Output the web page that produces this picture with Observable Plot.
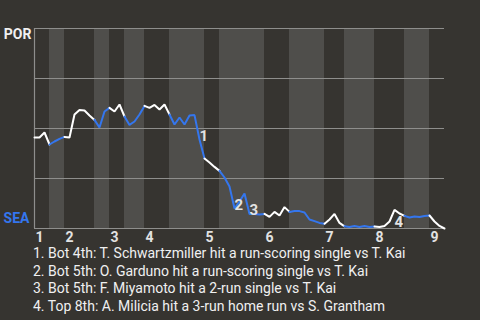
<!DOCTYPE html>
<html><head><meta charset="utf-8">
<script src="https://cdn.jsdelivr.net/npm/d3@7"></script>
<script src="https://cdn.jsdelivr.net/npm/@observablehq/plot@0.6"></script>
<style>
html,body{margin:0;padding:0;background:#363430;width:480px;height:320px;overflow:hidden;font-family:Roboto,sans-serif;}
#chart svg{display:block;}
#notes{padding-left:33px;color:#f0f0f0;font-size:14px;line-height:17.7px;white-space:nowrap;}
</style></head><body>
<div id="chart"></div>
<div id="notes"></div>
<script>
const teams = ["SEA", "POR"];
const innings = ["1","2","3","4","5","6","7","8","9"];
// plays per half-inning: T1, B1, T2, B2, ... T9
const halfInningPlays = [3,3,6,3,3,4,5,7,3,9,5,7,4,6,6,5,3];
// POR win probability after each play (index 0 = start of game)
const porWinProb = [
  0.455,0.455,0.48,0.42,0.435,0.448,0.458,0.455,0.57,0.593,
  0.59,0.565,0.543,0.505,0.585,0.603,0.585,0.62,0.56,0.518,
  0.535,0.57,0.613,0.603,0.618,0.595,0.62,0.57,0.52,0.555,
  0.52,0.565,0.567,0.445,0.35,0.33,0.308,0.288,0.255,0.21,
  0.10,0.135,0.175,0.073,0.073,0.07,0.073,0.058,0.083,0.065,
  0.107,0.083,0.087,0.087,0.08,0.045,0.037,0.028,0.024,0.045,
  0.073,0.028,0.011,0.008,0.012,0.008,0.012,0.008,0.01,0.008,
  0.013,0.035,0.093,0.075,0.063,0.055,0.06,0.058,0.063,0.065,
  0.035,0.013,0.0
];
const eventLabels = ["1","2","3","4"];
const eventPlays = [33,40,43,72];
const eventNotes = [
  "1. Bot 4th: T. Schwartzmiller hit a run-scoring single vs T. Kai",
  "2. Bot 5th: O. Garduno hit a run-scoring single vs T. Kai",
  "3. Bot 5th: F. Miyamoto hit a 2-run single vs T. Kai",
  "4. Top 8th: A. Milicia hit a 3-run home run vs S. Grantham"
];

const halves = [];
let s = 0;
halfInningPlays.forEach((n, i) => {
  halves.push({start: s, end: s + n, half: i, side: i % 2 === 0 ? "top" : "bottom", inning: innings[Math.floor(i / 2)]});
  s += n;
});
const lastIndex = porWinProb.length - 1;
const segs = [];
halves.forEach(h => {
  for (let k = h.start; k <= h.end; k++) segs.push({k, wp: porWinProb[k], half: h.half, side: h.side});
});
const events = eventLabels.map((t, i) => ({t, k: eventPlays[i], wp: porWinProb[eventPlays[i]]}));
const labelColor = "#e2e2e2";
const blue = "#3476ee";

const chart = Plot.plot({
  width: 480, height: 245,
  marginLeft: 34, marginRight: 36, marginTop: 28, marginBottom: 17,
  style: {background: "transparent", fontFamily: "Roboto, sans-serif", overflow: "visible"},
  x: {axis: null, domain: [0, lastIndex]},
  y: {axis: null, domain: [0, 1]},
  color: {domain: ["top", "bottom"], range: ["#ffffff", blue]},
  marks: [
    Plot.rect(halves.filter(h => h.side === "bottom"), {x1: "start", x2: "end", y1: 0, y2: 1, fill: "#4f4e4b"}),
    Plot.ruleY([0, 0.25, 0.5, 0.75, 1], {stroke: "#8e8e8c", strokeWidth: 1.2}),
    Plot.ruleX([0], {y1: 0, y2: 1, stroke: "#8e8e8c", strokeWidth: 1.2}),
    Plot.line(segs, {x: "k", y: "wp", z: "half", stroke: "side", strokeWidth: 2, strokeLinejoin: "miter"}),
    Plot.text(events.filter(e => e.t !== "4"), {x: "k", y: "wp", text: "t", textAnchor: "start", dx: 0, dy: -3.5, fill: labelColor, fontSize: 15, fontWeight: "bold"}),
    Plot.text(events.filter(e => e.t === "4"), {x: "k", y: "wp", text: "t", textAnchor: "start", dx: 0, dy: 12.5, fill: labelColor, fontSize: 15, fontWeight: "bold"}),
    Plot.text(halves.filter(h => h.side === "top"), {x: "start", y: 0, text: "inning", textAnchor: "start", dx: 1, dy: 9, fill: labelColor, fontSize: 14, fontWeight: "bold"}),
    Plot.text([teams[1]], {x: 0, y: 1, text: d => d, textAnchor: "end", dx: -3, dy: 6, fill: "#f0f0f0", fontSize: 14, fontWeight: "bold"}),
    Plot.text([teams[0]], {x: 0, y: 0, text: d => d, textAnchor: "end", dx: -5, dy: -10, fill: blue, fontSize: 14, fontWeight: "bold"})
  ]
});
document.getElementById("chart").appendChild(chart);
const notesDiv = document.getElementById("notes");
eventNotes.forEach(t => { const d = document.createElement("div"); d.textContent = t; notesDiv.appendChild(d); });
</script>
</body></html>
